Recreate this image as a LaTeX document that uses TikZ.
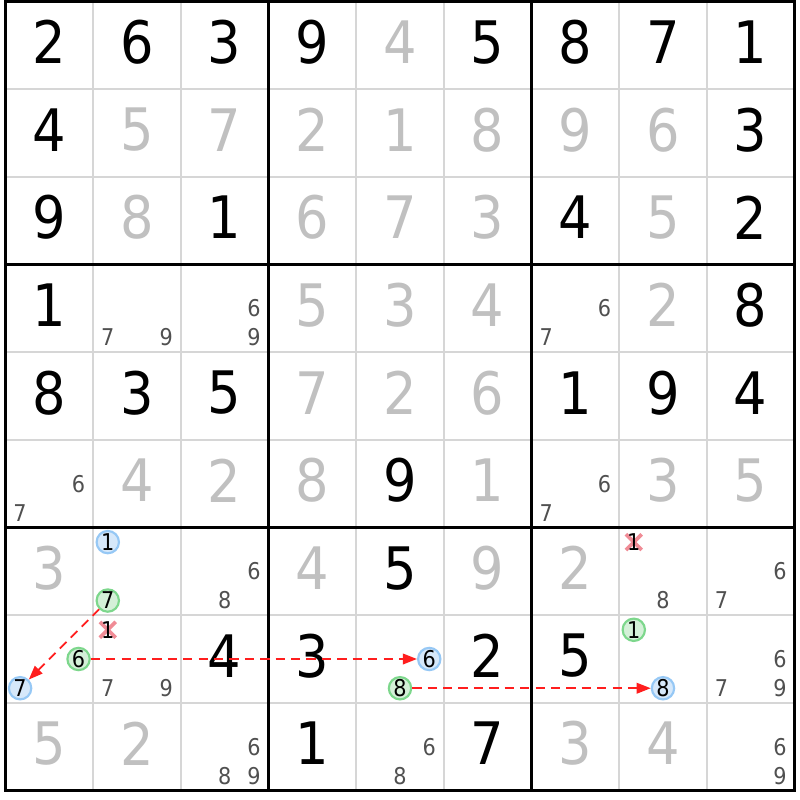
\documentclass[tikz,border=0pt]{standalone}
\usepackage{fontspec}
\setmainfont{DejaVu Sans Condensed}
\usetikzlibrary{arrows.meta}

\definecolor{gridgray}{RGB}{214,214,214}
\definecolor{solvedgray}{RGB}{192,192,192}
\definecolor{candgray}{RGB}{80,80,80}
\definecolor{onblue}{RGB}{214,232,250}
\definecolor{onblueline}{RGB}{150,200,245}
\definecolor{ongreen}{RGB}{212,240,216}
\definecolor{ongreenline}{RGB}{125,215,140}
\definecolor{chainred}{RGB}{255,30,30}
\definecolor{crossred}{RGB}{240,140,150}

\begin{document}
\begin{tikzpicture}[x=1cm, y=-1cm,
	given/.style={font=\fontsize{19}{20}\selectfont, text=black, inner sep=0pt},
	solved/.style={given, text=solvedgray},
	cand/.style={font=\fontsize{7.5}{8}\selectfont, text=candgray, inner sep=0pt},
	blueon/.style={cand, text=black, circle, draw=onblueline, fill=onblue, line width=0.7pt, minimum size=0.255cm},
	greenon/.style={blueon, draw=ongreenline, fill=ongreen},
	struck/.style={cand, text=black},
	link/.style={chainred, line width=0.6pt, dash pattern=on 3pt off 2pt, -{Triangle[length=0.16cm, width=0.12cm]}}]

		\useasboundingbox (-0.0627,-0.0171) rectangle (9.0627,9.108);

		% Draw the thin cell lines
		\foreach \i in {1,2,4,5,7,8}{
			\draw[gridgray, line width=0.6pt] (\i,0) -- (\i,9);
			\draw[gridgray, line width=0.6pt] (0,\i) -- (9,\i);
		}

		% Draw the box lines and the border
		\foreach \i in {3,6}{
			\draw[line width=1pt] (\i,0) -- (\i,9);
			\draw[line width=1pt] (0,\i) -- (9,\i);
		}
		\draw[line width=1pt] (0,0) rectangle (9,9);

		% Given digits
		\foreach \row/\col/\dig in {1/1/2, 1/2/6, 1/3/3, 1/4/9, 1/6/5, 1/7/8, 1/8/7, 1/9/1,
			2/1/4, 2/9/3, 3/1/9, 3/3/1, 3/7/4, 3/9/2, 4/1/1, 4/9/8,
			5/1/8, 5/2/3, 5/3/5, 5/7/1, 5/8/9, 5/9/4, 6/5/9, 7/5/5,
			8/3/4, 8/4/3, 8/6/2, 8/7/5, 9/4/1, 9/6/7}
			\node[given] (v\row\col) at (\col-0.5,\row-0.535) {\dig};

		% Solved digits
		\foreach \row/\col/\dig in {1/5/4,
			2/2/5, 2/3/7, 2/4/2, 2/5/1, 2/6/8, 2/7/9, 2/8/6,
			3/2/8, 3/4/6, 3/5/7, 3/6/3, 3/8/5, 4/4/5, 4/5/3, 4/6/4, 4/8/2,
			5/4/7, 5/5/2, 5/6/6, 6/2/4, 6/3/2, 6/4/8, 6/6/1, 6/8/3, 6/9/5,
			7/1/3, 7/4/4, 7/6/9, 7/7/2, 9/1/5, 9/2/2, 9/7/3, 9/8/4}
			\node[solved] (v\row\col) at (\col-0.5,\row-0.535) {\dig};

		% Pencil marks
		\foreach \row/\col/\dig in {4/2/7, 4/2/9, 4/3/6, 4/3/9, 4/7/6, 4/7/7,
			6/1/6, 6/1/7, 6/7/6, 6/7/7, 7/3/6, 7/3/8, 7/8/8, 7/9/6, 7/9/7,
			8/2/7, 8/2/9, 8/9/6, 8/9/7, 8/9/9,
			9/3/6, 9/3/8, 9/3/9, 9/5/6, 9/5/8, 9/9/6, 9/9/9}{
			\pgfmathsetmacro\cx{\col-1+(2*mod(\dig-1,3)+1)/6}
			\pgfmathsetmacro\cy{\row-1+(2*int((\dig-1)/3)+1)/6}
			\node[cand] (c\row\col\dig) at (\cx,\cy) {\dig};
		}

		% Eliminated marks
		\foreach \row/\col/\dig in {7/8/1, 8/2/1}{
			\pgfmathsetmacro\cx{\col-1+(2*mod(\dig-1,3)+1)/6}
			\pgfmathsetmacro\cy{\row-1+(2*int((\dig-1)/3)+1)/6}
			\draw[crossred, line width=1.2pt] (\cx-0.09,\cy-0.09) -- (\cx+0.09,\cy+0.09);
			\draw[crossred, line width=1.2pt] (\cx-0.09,\cy+0.09) -- (\cx+0.09,\cy-0.09);
			\node[struck] (c\row\col\dig) at (\cx,\cy) {\dig};
		}

		% Chain ends (off) and links (on)
		\foreach \row/\col/\dig in {7/2/1, 8/1/7, 8/5/6, 8/8/8}{
			\pgfmathsetmacro\cx{\col-1+(2*mod(\dig-1,3)+1)/6}
			\pgfmathsetmacro\cy{\row-1+(2*int((\dig-1)/3)+1)/6}
			\node[blueon] (c\row\col\dig) at (\cx,\cy) {\dig};
		}
		\foreach \row/\col/\dig in {7/2/7, 8/1/6, 8/5/8, 8/8/1}{
			\pgfmathsetmacro\cx{\col-1+(2*mod(\dig-1,3)+1)/6}
			\pgfmathsetmacro\cy{\row-1+(2*int((\dig-1)/3)+1)/6}
			\node[greenon] (c\row\col\dig) at (\cx,\cy) {\dig};
		}

		% Draw the chain
		\draw[link] (c727) -- (c817);
		\draw[link] (c816) -- (c856);
		\draw[link] (c858) -- (c888);

	\end{tikzpicture}
\end{document}
